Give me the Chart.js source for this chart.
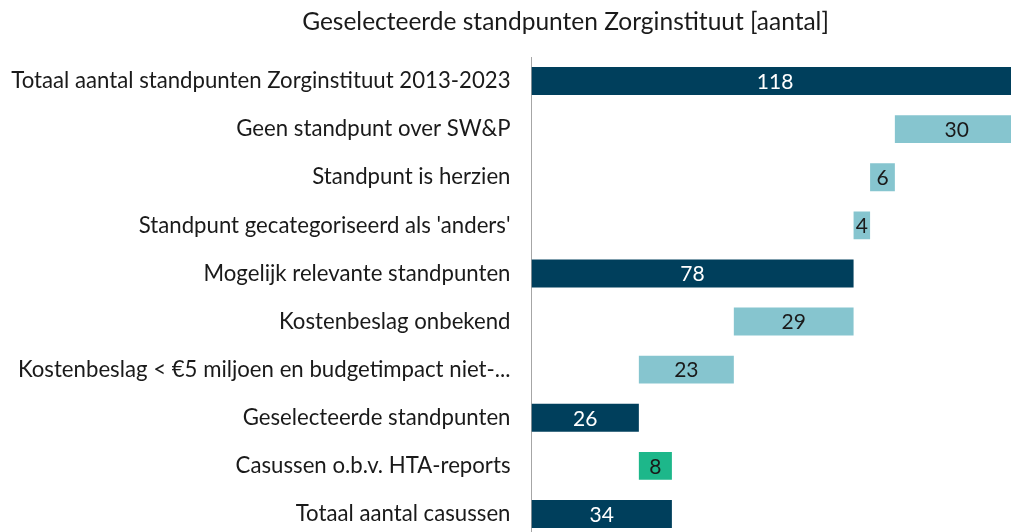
<!DOCTYPE html>
<html>
<head>
<meta charset="utf-8">
<script src="https://cdn.jsdelivr.net/npm/chart.js@4.4.1/dist/chart.umd.min.js"></script>
<style>
html,body{margin:0;padding:0;overflow:hidden;background:#fff;width:1011px;height:532px;}
#c{position:absolute;left:0;top:0;}
</style>
</head>
<body>
<canvas id="c" width="1027" height="538" style="width:1027px;height:538px;"></canvas>
<script>
const titleText = "Geselecteerde standpunten Zorginstituut [aantal]";
const categories = [
  "Totaal aantal standpunten Zorginstituut 2013-2023",
  "Geen standpunt over SW&P",
  "Standpunt is herzien",
  "Standpunt gecategoriseerd als 'anders'",
  "Mogelijk relevante standpunten",
  "Kostenbeslag onbekend",
  "Kostenbeslag < €5 miljoen en budgetimpact niet-...",
  "Geselecteerde standpunten",
  "Casussen o.b.v. HTA-reports",
  "Totaal aantal casussen"
];
const values = [118, 30, 6, 4, 78, 29, 23, 26, 8, 34];
const starts = [0, 88, 82, 78, 0, 49, 26, 0, 26, 0];
const kinds  = ["total","decrease","decrease","decrease","total","decrease","decrease","total","increase","total"];

const colorMap = {total:"#003f5c", decrease:"#86c5cf", increase:"#1db78a"};
const labelColorMap = {total:"#ffffff", decrease:"#1a1a1a", increase:"#1a1a1a"};
const FONT = "Lato";

const barData = values.map((v,i)=>[starts[i], starts[i]+v]);

const titlePlugin = {
  id:"customTitle",
  afterDraw(chart){
    const ctx = chart.ctx;
    ctx.save();
    ctx.font = "24.5px " + FONT;
    ctx.fillStyle = "#1a1a1a";
    ctx.textAlign = "center";
    ctx.textBaseline = "middle";
    ctx.fillText(titleText, 565.5, 22);
    ctx.restore();
  }
};
const labelPlugin = {
  id:"barLabels",
  afterDatasetsDraw(chart){
    const ctx = chart.ctx;
    const meta = chart.getDatasetMeta(0);
    ctx.save();
    ctx.font = "21px " + FONT;
    ctx.textAlign = "center";
    ctx.textBaseline = "middle";
    meta.data.forEach((el,i)=>{
      const p = el.getProps(["x","y","base"], true);
      ctx.fillStyle = labelColorMap[kinds[i]];
      ctx.fillText(String(values[i]), (p.x+p.base)/2, p.y+1);
    });
    ctx.restore();
  }
};

new Chart(document.getElementById("c"), {
  type:"bar",
  data:{
    labels:categories,
    datasets:[{
      data:barData,
      backgroundColor:kinds.map(k=>colorMap[k]),
      borderWidth:0,
      borderSkipped:false,
      categoryPercentage:1,
      barPercentage:0.58
    }]
  },
  options:{
    indexAxis:"y",
    responsive:false,
    animation:false,
    devicePixelRatio:1,
    layout:{padding:{top:57,bottom:0,left:0,right:0}},
    plugins:{legend:{display:false},tooltip:{enabled:false},title:{display:false}},
    scales:{
      x:{display:false,min:0,max:120},
      y:{
        afterFit(scale){scale.width = 531.5; scale.paddingTop = 0; scale.paddingBottom = 0;},
        grid:{display:false,drawTicks:false},
        border:{display:true,color:"#a6a6a6",width:1},
        ticks:{color:"#1a1a1a",font:{family:FONT,size:22.2},padding:21,autoSkip:false}
      }
    }
  },
  plugins:[titlePlugin,labelPlugin]
});
</script>
</body>
</html>
